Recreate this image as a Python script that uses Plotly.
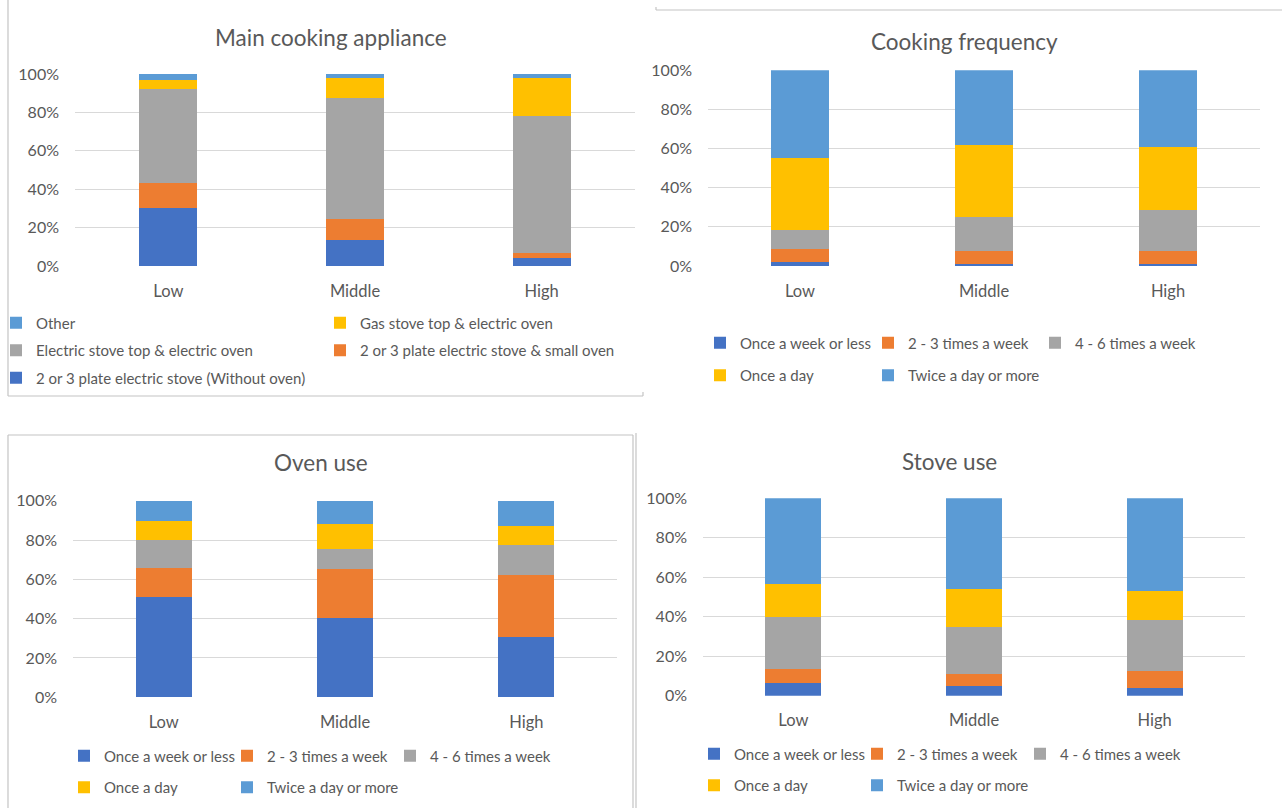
import plotly.graph_objects as go

W, H = 1282, 808
FONT = "Lato"
TXT = "#595959"
GRID = "#D9D9D9"
BORDER = "#C4C4C4"

categories = ["Low", "Middle", "High"]

# Main cooking appliance (percent, bottom to top)
appl_without_oven = [30.4, 13.5, 4.0]
appl_small_oven = [13.0, 11.2, 3.0]
appl_electric = [49.0, 62.6, 71.1]
appl_gas = [4.5, 10.5, 19.7]
appl_other = [3.1, 2.2, 2.2]

# Cooking frequency
cook_once_week = [1.9, 1.2, 1.2]
cook_two_three = [6.6, 6.3, 6.3]
cook_four_six = [9.9, 17.4, 21.1]
cook_once_day = [36.8, 36.8, 32.2]
cook_twice = [44.8, 38.3, 39.2]

# Oven use
oven_once_week = [50.8, 40.2, 30.5]
oven_two_three = [15.1, 24.9, 31.7]
oven_four_six = [14.1, 10.3, 15.1]
oven_once_day = [9.7, 12.6, 9.7]
oven_twice = [10.3, 12.0, 13.0]

# Stove use
stove_once_week = [6.4, 4.7, 3.7]
stove_two_three = [7.1, 6.1, 9.0]
stove_four_six = [26.4, 23.8, 25.5]
stove_once_day = [16.9, 19.5, 15.0]
stove_twice = [43.2, 45.9, 46.8]

appl_names = ["2 or 3 plate electric stove (Without oven)",
              "2 or 3 plate electric stove & small oven",
              "Electric stove top & electric oven",
              "Gas stove top & electric oven",
              "Other"]
freq_names = ["Once a week or less", "2 - 3 times a week", "4 - 6 times a week",
              "Once a day", "Twice a day or more"]
colors = ["#4472C4", "#ED7D31", "#A5A5A5", "#FFC000", "#5B9BD5"]
titles = ["Main cooking appliance", "Cooking frequency", "Oven use", "Stove use"]


def px_x(v):
    return v / W


def px_y(v):
    return 1 - v / H


fig = go.Figure()

panels = [
    dict(series=[appl_without_oven, appl_small_oven, appl_electric, appl_gas, appl_other],
         names=appl_names, legends=["legend", "legend2", "legend", "legend2", "legend"],
         xd=(75, 635), yd=(266, 74), title=(331, 37), rev=True),
    dict(series=[cook_once_week, cook_two_three, cook_four_six, cook_once_day, cook_twice],
         names=freq_names, legends=["legend3", "legend4", "legend5", "legend3", "legend4"],
         xd=(708, 1260), yd=(266, 70.3), title=(964, 41), rev=False),
    dict(series=[oven_once_week, oven_two_three, oven_four_six, oven_once_day, oven_twice],
         names=freq_names, legends=["legend6", "legend7", "legend8", "legend6", "legend7"],
         xd=(73, 617), yd=(697.3, 500.7), title=(321, 463), rev=False),
    dict(series=[stove_once_week, stove_two_three, stove_four_six, stove_once_day, stove_twice],
         names=freq_names, legends=["legend9", "legend10", "legend11", "legend9", "legend10"],
         xd=(703, 1245), yd=(695.7, 498.3), title=(949, 462), rev=False),
]

annotations = []
for i, p in enumerate(panels):
    sfx = "" if i == 0 else str(i + 1)
    n = len(p["series"])
    for j, (vals, name) in enumerate(zip(p["series"], p["names"])):
        fig.add_trace(go.Bar(
            x=categories, y=[v / 100 for v in vals], name=name,
            marker=dict(color=colors[j], line=dict(width=0)),
            xaxis="x" + sfx, yaxis="y" + sfx,
            legend=p["legends"][j], legendgroup=f"p{i}_{j}",
            legendrank=(n - j) if p["rev"] else (j + 1),
        ))
    fig.layout["xaxis" + sfx] = dict(
        domain=[px_x(p["xd"][0]), px_x(p["xd"][1])], anchor="y" + sfx,
        showgrid=False, showline=False, zeroline=False, ticks="",
        tickfont=dict(family=FONT, size=16.5, color=TXT), ticklabelstandoff=13,
        fixedrange=True, automargin=False,
    )
    fig.layout["yaxis" + sfx] = dict(
        domain=[px_y(p["yd"][0]), px_y(p["yd"][1])], anchor="x" + sfx,
        range=[0, 1], dtick=0.2, tickformat=".0%",
        showgrid=True, gridcolor=GRID, gridwidth=1.3, showline=False, zeroline=False,
        ticks="", tickfont=dict(family=FONT, size=16, color=TXT), ticklabelstandoff=15,
        fixedrange=True, automargin=False,
    )
    annotations.append(dict(
        text=titles[i], x=px_x(p["title"][0]), y=px_y(p["title"][1]),
        xref="paper", yref="paper", xanchor="center", yanchor="middle",
        showarrow=False, font=dict(family=FONT, size=22.5, color=TXT),
    ))


def leg(x_center, y_center, gap):
    return dict(
        x=px_x(x_center - 24), y=px_y(y_center - 16.5), xanchor="left", yanchor="top",
        orientation="v", traceorder="grouped", tracegroupgap=gap,
        bgcolor="rgba(0,0,0,0)", borderwidth=0,
        font=dict(family=FONT, size=15, color=TXT),
    )


legend_cfg = {
    "legend": leg(20, 323, 5),
    "legend2": leg(344, 323, 5),
    "legend3": leg(724, 343, 10),
    "legend4": leg(892, 343, 10),
    "legend5": leg(1059, 343, 10),
    "legend6": leg(88, 756, 9),
    "legend7": leg(251, 756, 9),
    "legend8": leg(414, 756, 9),
    "legend9": leg(718, 754, 9),
    "legend10": leg(881, 754, 9),
    "legend11": leg(1044, 754, 9),
}

line = dict(color=BORDER, width=1.2)
shapes = [
    # panel 1 frame (left + bottom)
    dict(type="line", xref="paper", yref="paper", x0=px_x(8), x1=px_x(8), y0=px_y(0), y1=px_y(396), line=line),
    dict(type="line", xref="paper", yref="paper", x0=px_x(8), x1=px_x(643), y0=px_y(396), y1=px_y(396), line=line),
    dict(type="line", xref="paper", yref="paper", x0=px_x(643), x1=px_x(643), y0=px_y(392), y1=px_y(396), line=line),
    # panel 2 frame (top)
    dict(type="line", xref="paper", yref="paper", x0=px_x(656), x1=px_x(1282), y0=px_y(10), y1=px_y(10), line=line),
    dict(type="line", xref="paper", yref="paper", x0=px_x(656), x1=px_x(656), y0=px_y(7), y1=px_y(10), line=line),
    # panel 3 frame
    dict(type="line", xref="paper", yref="paper", x0=px_x(8), x1=px_x(633), y0=px_y(435), y1=px_y(435), line=line),
    dict(type="line", xref="paper", yref="paper", x0=px_x(8), x1=px_x(8), y0=px_y(435), y1=px_y(808), line=line),
    dict(type="line", xref="paper", yref="paper", x0=px_x(633), x1=px_x(633), y0=px_y(435), y1=px_y(808), line=line),
    dict(type="line", xref="paper", yref="paper", x0=px_x(636), x1=px_x(636), y0=px_y(433), y1=px_y(808), line=line),
]

fig.update_layout(
    width=W, height=H, margin=dict(l=0, r=0, t=0, b=0, autoexpand=False),
    paper_bgcolor="white", plot_bgcolor="white",
    barmode="stack", bargap=0.69,
    annotations=annotations, shapes=shapes,
    font=dict(family=FONT, color=TXT),
    **legend_cfg,
)

fig.write_html(
    "out.html",
    config={"displayModeBar": False},
    post_script="document.body.style.margin='0';document.body.style.overflow='hidden';",
)
